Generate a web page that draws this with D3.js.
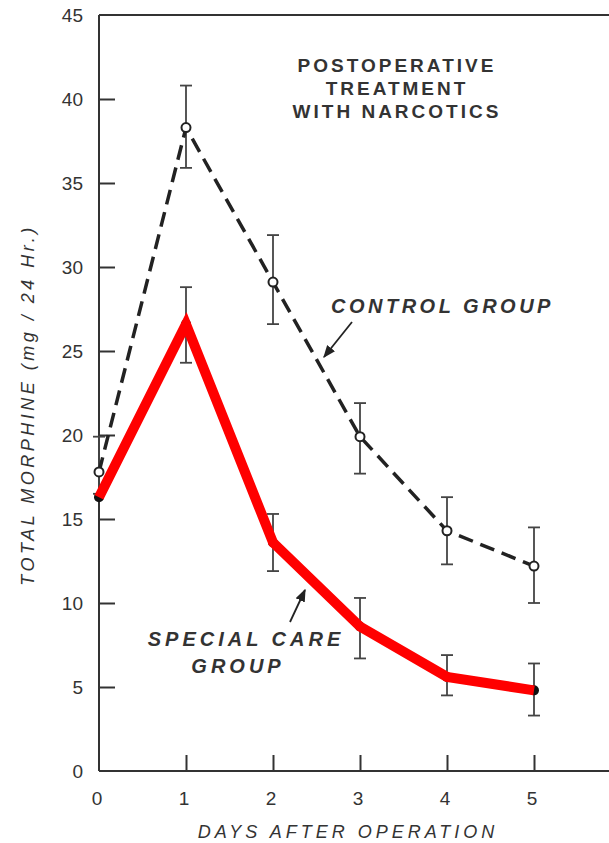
<!DOCTYPE html>
<html>
<head>
<meta charset="utf-8">
<script src="https://cdn.jsdelivr.net/npm/d3@7"></script>
<style>
body { margin: 0; background: #fff; }
svg { font-family: "Liberation Sans", Arial, sans-serif; }
</style>
</head>
<body>
<svg width="609" height="843"></svg>
<script>
var days = [0, 1, 2, 3, 4, 5];
var yTicks = [0, 5, 10, 15, 20, 25, 30, 35, 40, 45];

var control = [17.8, 38.3, 29.1, 19.9, 14.3, 12.2];
var controlHi = [19.9, 40.8, 31.9, 21.9, 16.3, 14.5];
var controlLo = [16.5, 35.9, 26.6, 17.7, 12.3, 10.0];

var special = [16.3, 26.6, 13.6, 8.6, 5.6, 4.8];
var specialHi = [16.3, 28.8, 15.3, 10.3, 6.9, 6.4];
var specialLo = [16.3, 24.3, 11.9, 6.7, 4.5, 3.3];

var svg = d3.select("svg");
var ink = "#333";

var xScale = d3.scaleLinear().domain([0, 5]).range([99, 534]);
var yScale = d3.scaleLinear().domain([0, 45]).range([771, 15]);

// frame: left axis, bottom axis, top line
svg.append("line").attr("x1", 99).attr("x2", 99).attr("y1", 15).attr("y2", 771)
    .attr("stroke", ink).attr("stroke-width", 2);
svg.append("line").attr("x1", 99).attr("x2", 609).attr("y1", 771).attr("y2", 771)
    .attr("stroke", ink).attr("stroke-width", 2);
svg.append("line").attr("x1", 99).attr("x2", 609).attr("y1", 15).attr("y2", 15)
    .attr("stroke", ink).attr("stroke-width", 2);

var yAxis = d3.axisRight(yScale).tickValues(yTicks.slice(1, 9)).tickSize(16).tickFormat("");
var yG = svg.append("g").attr("transform", "translate(99,0)").call(yAxis);
yG.select(".domain").remove();
yG.selectAll("line").attr("stroke", ink).attr("stroke-width", 2);

var xAxis = d3.axisTop(xScale).tickValues(days.slice(1)).tickSize(16).tickFormat("");
var xG = svg.append("g").attr("transform", "translate(0,771)").call(xAxis);
xG.select(".domain").remove();
xG.selectAll("line").attr("stroke", ink).attr("stroke-width", 2);

// tick labels
svg.selectAll(".ylab").data(yTicks).enter().append("text")
    .attr("x", 83).attr("y", function (d) { return yScale(d) + 7; })
    .attr("text-anchor", "end").attr("font-size", 19).attr("fill", ink)
    .text(function (d) { return d; });
svg.selectAll(".xlab").data(days).enter().append("text")
    .attr("x", function (d) { return xScale(d) - 2; }).attr("y", 805)
    .attr("text-anchor", "middle").attr("font-size", 19).attr("fill", ink)
    .text(function (d) { return d; });

// axis titles
svg.append("text").attr("transform", "translate(34,405) rotate(-90)")
    .attr("text-anchor", "middle").attr("font-size", 18).attr("font-style", "italic")
    .attr("letter-spacing", 3.5).attr("fill", ink)
    .text("TOTAL MORPHINE (mg / 24 Hr.)");
svg.append("text").attr("x", 348).attr("y", 838)
    .attr("text-anchor", "middle").attr("font-size", 18).attr("font-style", "italic")
    .attr("letter-spacing", 4).attr("fill", ink)
    .text("DAYS AFTER OPERATION");

// error bars
function errorBars(hi, lo) {
    var g = svg.append("g").attr("stroke", "#444").attr("stroke-width", 1.8);
    days.forEach(function (d, i) {
        if (hi[i] == lo[i]) return;
        var x = xScale(d);
        g.append("line").attr("x1", x).attr("x2", x).attr("y1", yScale(hi[i])).attr("y2", yScale(lo[i]));
        g.append("line").attr("x1", x - 6).attr("x2", x + 6).attr("y1", yScale(hi[i])).attr("y2", yScale(hi[i]));
        g.append("line").attr("x1", x - 6).attr("x2", x + 6).attr("y1", yScale(lo[i])).attr("y2", yScale(lo[i]));
    });
}
errorBars(controlHi, controlLo);
errorBars(specialHi, specialLo);

var line = d3.line().x(function (d, i) { return xScale(days[i]); }).y(function (d) { return yScale(d); });

// control group: dashed with open circles
svg.append("path").attr("d", line(control)).attr("fill", "none")
    .attr("stroke", "#222").attr("stroke-width", 3.5).attr("stroke-dasharray", "15,8");
svg.selectAll(".cpt").data(control).enter().append("circle")
    .attr("cx", function (d, i) { return xScale(days[i]); }).attr("cy", function (d) { return yScale(d); })
    .attr("r", 4.5).attr("fill", "#fff").attr("stroke", "#222").attr("stroke-width", 2);

// special care group: filled points, thick red line
svg.selectAll(".spt").data(special).enter().append("circle")
    .attr("cx", function (d, i) { return xScale(days[i]); }).attr("cy", function (d) { return yScale(d); })
    .attr("r", 5).attr("fill", "#111");
svg.append("path").attr("d", line(special)).attr("fill", "none")
    .attr("stroke", "#ff0000").attr("stroke-width", 10).attr("stroke-linejoin", "miter");

// title block
var title = ["POSTOPERATIVE", "TREATMENT", "WITH NARCOTICS"];
svg.selectAll(".title").data(title).enter().append("text")
    .attr("x", 397).attr("y", function (d, i) { return 72 + i * 23; })
    .attr("text-anchor", "middle").attr("font-size", 19).attr("font-weight", "bold")
    .attr("letter-spacing", 3).attr("fill", ink)
    .text(function (d) { return d; });

// series labels
svg.append("text").attr("x", 331).attr("y", 313)
    .attr("font-size", 20).attr("font-weight", "bold").attr("font-style", "italic")
    .attr("letter-spacing", 3.5).attr("fill", ink).text("CONTROL GROUP");
svg.append("text").attr("x", 246).attr("y", 646).attr("text-anchor", "middle")
    .attr("font-size", 20).attr("font-weight", "bold").attr("font-style", "italic")
    .attr("letter-spacing", 4).attr("fill", ink).text("SPECIAL CARE");
svg.append("text").attr("x", 238).attr("y", 673).attr("text-anchor", "middle")
    .attr("font-size", 20).attr("font-weight", "bold").attr("font-style", "italic")
    .attr("letter-spacing", 4).attr("fill", ink).text("GROUP");

// arrows
var defs = svg.append("defs");
defs.append("marker").attr("id", "arr").attr("viewBox", "0 0 10 10")
    .attr("refX", 9).attr("refY", 5).attr("markerWidth", 7).attr("markerHeight", 7)
    .attr("orient", "auto").append("path").attr("d", "M0,1 L10,5 L0,9 Z").attr("fill", "#222");
svg.append("line").attr("x1", 352).attr("y1", 322).attr("x2", 324).attr("y2", 357)
    .attr("stroke", "#222").attr("stroke-width", 1.8).attr("marker-end", "url(#arr)");
svg.append("line").attr("x1", 290).attr("y1", 622).attr("x2", 305).attr("y2", 590)
    .attr("stroke", "#222").attr("stroke-width", 1.8).attr("marker-end", "url(#arr)");
</script>
</body>
</html>
